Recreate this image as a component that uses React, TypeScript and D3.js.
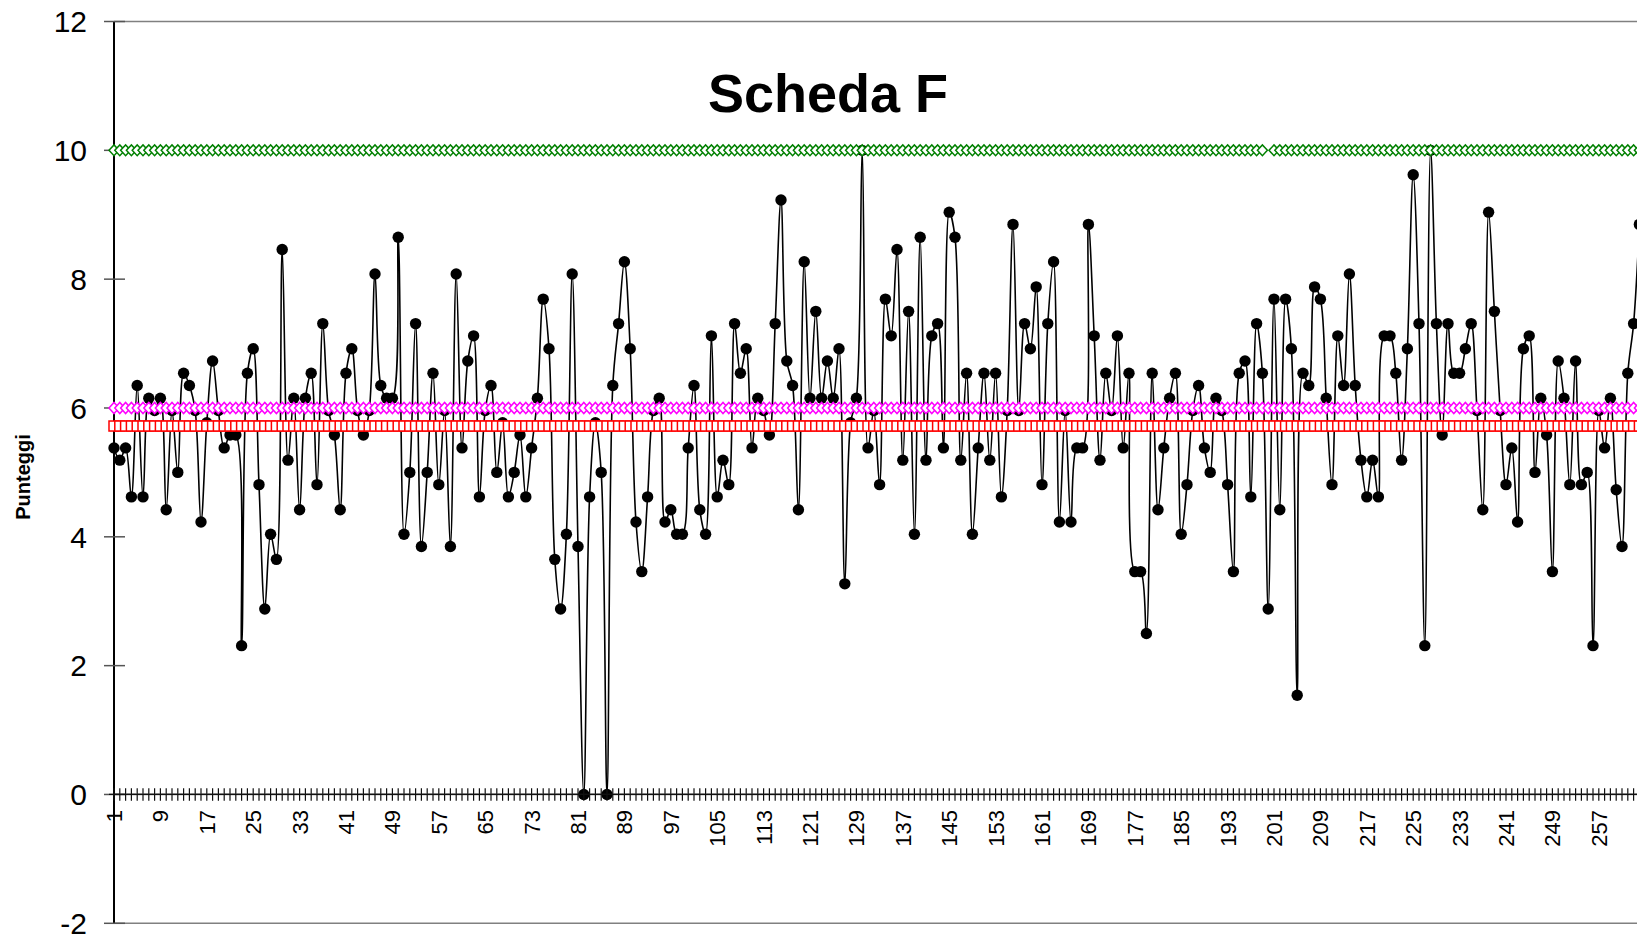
import React from 'react';
import * as d3 from 'd3';

// Categories (sample numbers) along the x axis
const categories: number[] = d3.range(1, 266);

// Punteggi (scores), one per category
const scores: number[] = [
  5.38, 5.19, 5.38, 4.62, 6.35, 4.62, 6.15, 5.96, 6.15, 4.42,
  5.96, 5.00, 6.54, 6.35, 5.96, 4.23, 5.77, 6.73, 5.96, 5.38,
  5.58, 5.58, 2.31, 6.54, 6.92, 4.81, 2.88, 4.04, 3.65, 8.46,
  5.19, 6.15, 4.42, 6.15, 6.54, 4.81, 7.31, 5.96, 5.58, 4.42,
  6.54, 6.92, 5.96, 5.58, 5.96, 8.08, 6.35, 6.15, 6.15, 8.65,
  4.04, 5.00, 7.31, 3.85, 5.00, 6.54, 4.81, 5.96, 3.85, 8.08,
  5.38, 6.73, 7.12, 4.62, 5.96, 6.35, 5.00, 5.77, 4.62, 5.00,
  5.58, 4.62, 5.38, 6.15, 7.69, 6.92, 3.65, 2.88, 4.04, 8.08,
  3.85, 0.00, 4.62, 5.77, 5.00, 0.00, 6.35, 7.31, 8.27, 6.92,
  4.23, 3.46, 4.62, 5.96, 6.15, 4.23, 4.42, 4.04, 4.04, 5.38,
  6.35, 4.42, 4.04, 7.12, 4.62, 5.19, 4.81, 7.31, 6.54, 6.92,
  5.38, 6.15, 5.96, 5.58, 7.31, 9.23, 6.73, 6.35, 4.42, 8.27,
  6.15, 7.50, 6.15, 6.73, 6.15, 6.92, 3.27, 5.77, 6.15, 10.00,
  5.38, 5.96, 4.81, 7.69, 7.12, 8.46, 5.19, 7.50, 4.04, 8.65,
  5.19, 7.12, 7.31, 5.38, 9.04, 8.65, 5.19, 6.54, 4.04, 5.38,
  6.54, 5.19, 6.54, 4.62, 5.96, 8.85, 5.96, 7.31, 6.92, 7.88,
  4.81, 7.31, 8.27, 4.23, 5.96, 4.23, 5.38, 5.38, 8.85, 7.12,
  5.19, 6.54, 5.96, 7.12, 5.38, 6.54, 3.46, 3.46, 2.50, 6.54,
  4.42, 5.38, 6.15, 6.54, 4.04, 4.81, 5.96, 6.35, 5.38, 5.00,
  6.15, 5.96, 4.81, 3.46, 6.54, 6.73, 4.62, 7.31, 6.54, 2.88,
  7.69, 4.42, 7.69, 6.92, 1.54, 6.54, 6.35, 7.88, 7.69, 6.15,
  4.81, 7.12, 6.35, 8.08, 6.35, 5.19, 4.62, 5.19, 4.62, 7.12,
  7.12, 6.54, 5.19, 6.92, 9.62, 7.31, 2.31, 10.00, 7.31, 5.58,
  7.31, 6.54, 6.54, 6.92, 7.31, 5.96, 4.42, 9.04, 7.50, 5.96,
  4.81, 5.38, 4.23, 6.92, 7.12, 5.00, 6.15, 5.58, 3.46, 6.73,
  6.15, 4.81, 6.73, 4.81, 5.00, 2.31, 5.96, 5.38, 6.15, 4.73,
  3.85, 6.54, 7.31, 8.85,
];

// Reference lines
const upperLimit = 10;        // green diamonds
const upperMissing = [200];   // category without a green marker
const targetLine = 6;         // magenta diamonds
const meanLine = 5.72;        // red squares
const lowerLimit = 0;         // black plus markers

const yTicks: number[] = [-2, 0, 2, 4, 6, 8, 10, 12];
const xTickLabels: number[] = categories.filter((c) => (c - 1) % 8 === 0);

const FONT = 'Arial, "Liberation Sans", Helvetica, sans-serif';

export default function App() {
  const W = 1637;
  const H = 937;
  const x0 = 114;
  const step = 5.8;
  const x = d3
    .scalePoint<number>()
    .domain(categories)
    .range([x0, x0 + (categories.length - 1) * step]);
  const y = d3.scaleLinear().domain([-2, 12]).range([923.3, 21.5]);

  const dataLine = d3
    .line<number>()
    .x((_, i) => x(categories[i]) as number)
    .y((d) => y(d))
    .curve(d3.curveCatmullRom.alpha(0.5));

  const refCats = categories.slice(0, scores.length);

  const diamond = (cx: number, cy: number, hw: number, hh: number) =>
    `M${cx - hw},${cy}L${cx},${cy - hh}L${cx + hw},${cy}L${cx},${cy + hh}Z`;

  const upperCats = refCats.filter((c) => !upperMissing.includes(c));
  const upperLine = d3
    .line<number>()
    .defined((c) => !upperMissing.includes(c))
    .x((c) => x(c) as number)
    .y(() => y(upperLimit));

  const plotLeft = x0;
  const plotRight = W + 20;

  return (
    <svg
      width={W}
      height={H}
      style={{ position: 'absolute', left: 0, top: 0, background: '#fff' }}
    >
      <rect x={0} y={0} width={W} height={H} fill="#fff" />

      {/* plot border top/bottom */}
      <line x1={plotLeft} x2={plotRight} y1={y(12)} y2={y(12)} stroke="#808080" strokeWidth={1.5} />
      <line x1={plotLeft} x2={plotRight} y1={y(-2)} y2={y(-2)} stroke="#808080" strokeWidth={1.5} />

      {/* x axis at 0 */}
      <line x1={plotLeft} x2={plotRight} y1={y(0)} y2={y(0)} stroke="#808080" strokeWidth={1.5} />

      {/* y axis */}
      <line x1={x0} x2={x0} y1={y(12)} y2={y(-2)} stroke="#000" strokeWidth={2} />
      {yTicks.map((t) => (
        <g key={`yt${t}`}>
          <line x1={x0 - 10} x2={x0 + 11} y1={y(t)} y2={y(t)} stroke="#555" strokeWidth={1.5} />
          <text
            x={87}
            y={y(t)}
            dy="0.36em"
            textAnchor="end"
            fontFamily={FONT}
            fontSize={30}
            fill="#000"
          >
            {t}
          </text>
        </g>
      ))}

      {/* x tick labels */}
      {xTickLabels.map((c) => (
        <text
          key={`xl${c}`}
          transform={`translate(${x(c)},810) rotate(-90)`}
          dy="0.36em"
          textAnchor="end"
          fontFamily={FONT}
          fontSize={22}
          fill="#000"
        >
          {c}
        </text>
      ))}

      {/* data series */}
      <path d={dataLine(scores) || ''} fill="none" stroke="#000" strokeWidth={1.6} />
      {scores.map((v, i) => (
        <circle key={`d${i}`} cx={x(categories[i]) as number} cy={y(v)} r={5.7} fill="#000" />
      ))}

      {/* lower limit: plus markers at 0 */}
      {refCats.map((c) => (
        <path
          key={`p${c}`}
          d={`M${(x(c) as number) - 5},${y(lowerLimit)}H${(x(c) as number) + 5}M${x(c)},${y(lowerLimit) - 6.3}V${y(lowerLimit) + 6.3}`}
          stroke="#111"
          strokeWidth={1.2}
          fill="none"
        />
      ))}

      {/* upper limit green */}
      <path d={upperLine(refCats) || ''} fill="none" stroke="#008000" strokeWidth={1.2} />
      {upperCats.map((c) => (
        <path
          key={`u${c}`}
          d={diamond(x(c) as number, y(upperLimit), 5, 5.4)}
          fill="#fff"
          stroke="#008000"
          strokeWidth={1.5}
        />
      ))}

      {/* target magenta */}
      <line
        x1={x(refCats[0])}
        x2={x(refCats[refCats.length - 1])}
        y1={y(targetLine)}
        y2={y(targetLine)}
        stroke="#FF00FF"
        strokeWidth={1.2}
      />
      {refCats.map((c) => (
        <path
          key={`t${c}`}
          d={diamond(x(c) as number, y(targetLine), 5, 5.6)}
          fill="#fff"
          stroke="#FF00FF"
          strokeWidth={1.5}
        />
      ))}

      {/* mean red squares */}
      <line
        x1={x(refCats[0])}
        x2={x(refCats[refCats.length - 1])}
        y1={y(meanLine)}
        y2={y(meanLine)}
        stroke="#FF0000"
        strokeWidth={1.2}
      />
      {refCats.map((c) => (
        <rect
          key={`m${c}`}
          x={(x(c) as number) - 5}
          y={y(meanLine) - 5}
          width={10}
          height={10}
          fill="#fff"
          stroke="#FF0000"
          strokeWidth={1.5}
        />
      ))}

      {/* title */}
      <text
        x={828}
        y={112}
        textAnchor="middle"
        fontFamily={FONT}
        fontWeight="bold"
        fontSize={54}
        fill="#000"
      >
        Scheda F
      </text>

      {/* y axis title */}
      <text
        transform={`translate(23,477) rotate(-90)`}
        dy="0.36em"
        textAnchor="middle"
        fontFamily={FONT}
        fontWeight="bold"
        fontSize={20}
        fill="#000"
      >
        Punteggi
      </text>
    </svg>
  );
}
